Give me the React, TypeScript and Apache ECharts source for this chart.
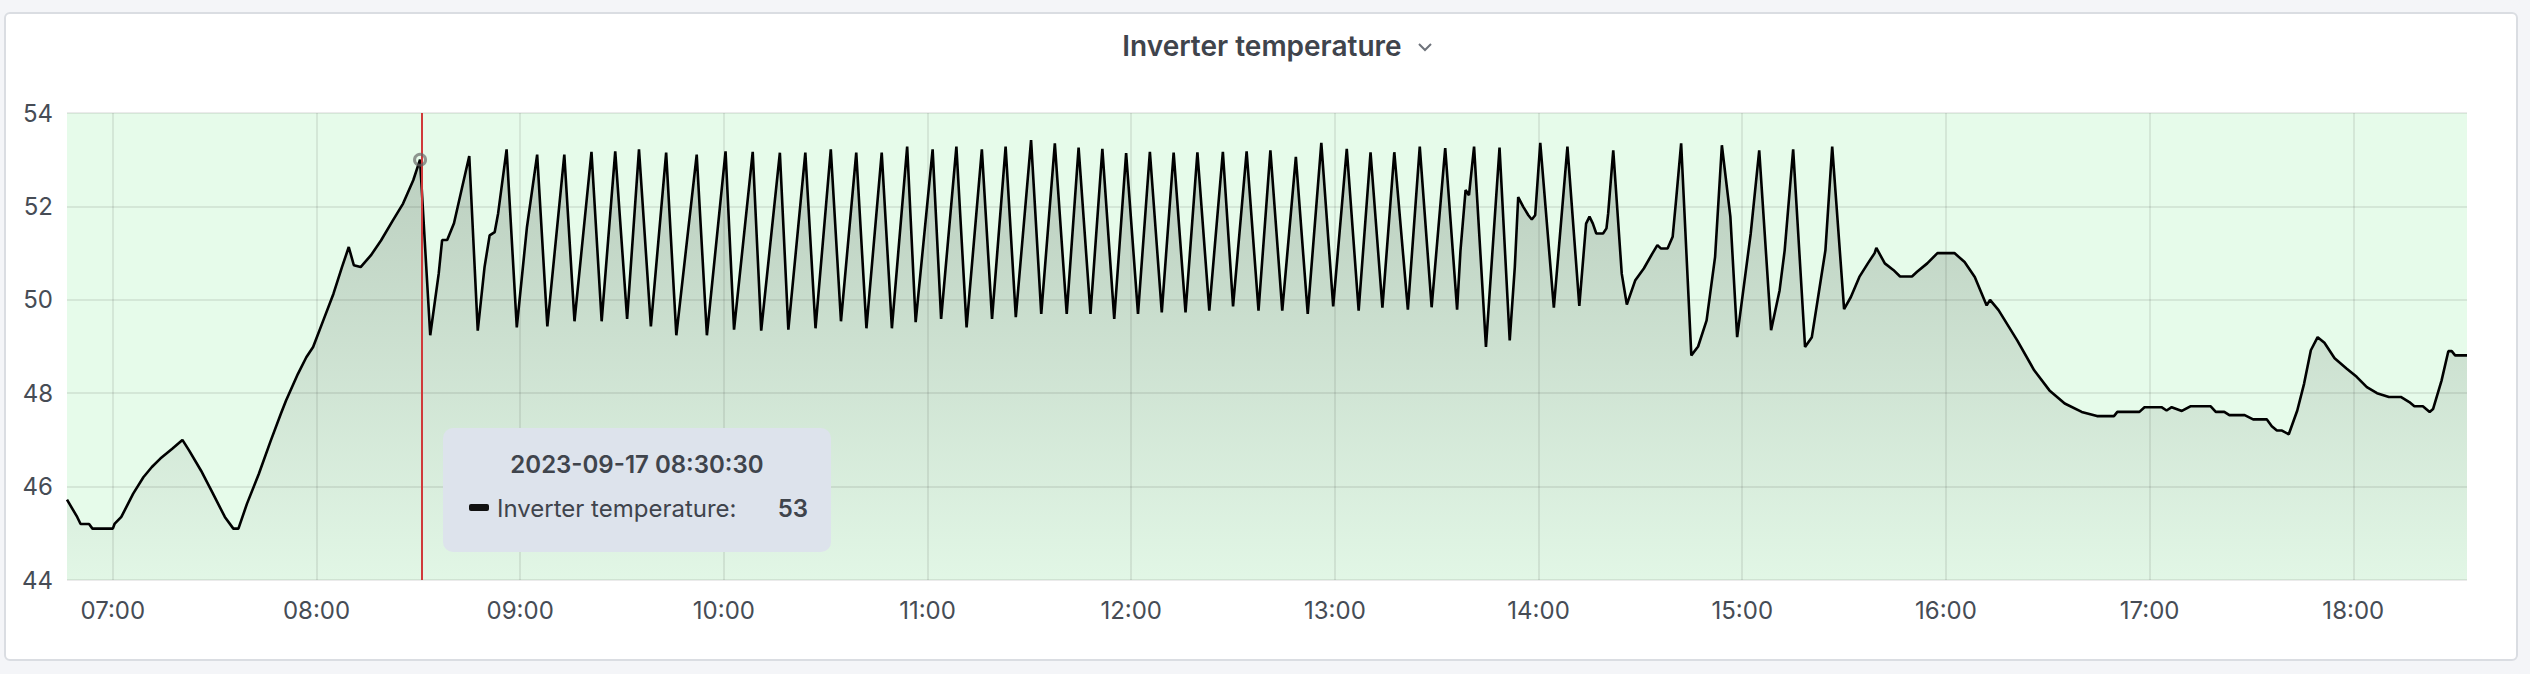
import React, { useEffect, useRef } from "react";
import * as echarts from "echarts";

// ---------- data ----------
const seriesName = "Inverter temperature";
const tooltipTitle = "2023-09-17 08:30:30";
const axisStart = "06:46:30";
const axisEnd = "18:33:30";
const hoverTime = "08:30:30";
const hoverValue = 53;
const cursorTime = "08:31:05";
const hourTicks = ["07:00", "08:00", "09:00", "10:00", "11:00", "12:00", "13:00", "14:00", "15:00", "16:00", "17:00", "18:00"];
const yMin = 44;
const yMax = 54;
const yStep = 2;

const times = [
  "06:46:30", "06:49:30", "06:50:30", "06:53:00", "06:54:00", "07:00:00", "07:00:30", "07:02:30",
  "07:06:00", "07:09:00", "07:11:30", "07:14:00", "07:17:30", "07:20:30", "07:22:30", "07:26:00",
  "07:29:30", "07:33:00", "07:35:30", "07:37:00", "07:39:30", "07:43:00", "07:46:30", "07:49:30",
  "07:51:00", "07:54:30", "07:57:00", "07:59:00", "08:02:00", "08:05:00", "08:07:30", "08:09:30",
  "08:11:00", "08:13:00", "08:16:00", "08:19:00", "08:22:30", "08:25:30", "08:28:30", "08:30:30",
  "08:33:30", "08:36:00", "08:37:00", "08:38:30", "08:40:30", "08:42:30", "08:45:00", "08:47:30",
  "08:49:30", "08:51:00", "08:52:30", "08:53:30", "08:56:00", "08:59:00", "09:02:00", "09:05:00",
  "09:08:00", "09:13:00", "09:16:00", "09:21:00", "09:24:00", "09:28:00", "09:31:30", "09:35:00",
  "09:38:30", "09:43:00", "09:46:00", "09:52:00", "09:55:00", "10:00:30", "10:03:00", "10:08:30",
  "10:11:00", "10:16:30", "10:19:00", "10:24:00", "10:27:00", "10:31:30", "10:34:30", "10:39:00",
  "10:42:00", "10:46:30", "10:49:30", "10:54:00", "10:56:30", "11:01:30", "11:04:00", "11:08:30",
  "11:11:30", "11:16:00", "11:19:00", "11:23:00", "11:26:00", "11:30:30", "11:33:30", "11:37:30",
  "11:41:00", "11:44:30", "11:48:00", "11:51:30", "11:55:00", "11:58:30", "12:02:00", "12:05:30",
  "12:09:00", "12:12:30", "12:16:00", "12:19:30", "12:23:00", "12:27:00", "12:30:00", "12:34:00",
  "12:37:30", "12:41:00", "12:44:30", "12:48:30", "12:52:00", "12:56:00", "12:59:30", "13:03:30",
  "13:07:00", "13:10:30", "13:14:00", "13:17:30", "13:21:30", "13:25:00", "13:28:30", "13:32:30",
  "13:36:00", "13:37:00", "13:38:30", "13:39:30", "13:41:00", "13:44:30", "13:48:30", "13:51:30",
  "13:53:00", "13:54:00", "13:55:30", "13:57:00", "13:58:00", "13:59:00", "14:00:30", "14:04:30",
  "14:08:30", "14:12:00", "14:14:00", "14:15:00", "14:16:00", "14:17:00", "14:19:00", "14:20:00",
  "14:20:30", "14:22:00", "14:24:30", "14:26:00", "14:28:30", "14:31:00", "14:33:30", "14:35:00",
  "14:36:00", "14:38:00", "14:39:30", "14:40:30", "14:42:00", "14:45:00", "14:47:00", "14:49:30",
  "14:52:00", "14:54:00", "14:56:30", "14:58:30", "15:02:30", "15:05:00", "15:08:30", "15:11:00",
  "15:12:30", "15:15:00", "15:18:30", "15:20:30", "15:22:30", "15:24:30", "15:26:30", "15:30:00",
  "15:32:00", "15:34:30", "15:37:00", "15:39:00", "15:39:30", "15:42:00", "15:44:30", "15:46:30",
  "15:50:00", "15:51:30", "15:54:30", "15:57:30", "16:02:30", "16:05:30", "16:08:30", "16:12:00",
  "16:13:00", "16:15:30", "16:21:00", "16:26:00", "16:30:30", "16:35:00", "16:40:00", "16:44:30",
  "16:49:30", "16:50:30", "16:57:00", "16:58:30", "17:03:30", "17:05:00", "17:06:30", "17:09:30",
  "17:12:00", "17:18:00", "17:19:30", "17:22:00", "17:23:30", "17:28:00", "17:30:30", "17:34:30",
  "17:36:00", "17:37:30", "17:39:00", "17:41:00", "17:43:30", "17:45:30", "17:47:30", "17:49:30",
  "17:51:30", "17:54:30", "17:58:00", "18:01:00", "18:04:00", "18:07:00", "18:10:30", "18:14:00",
  "18:16:30", "18:18:00", "18:20:30", "18:22:30", "18:23:30", "18:26:00", "18:28:00", "18:29:00",
  "18:30:00", "18:33:30",
];

const temps = [
  45.72, 45.35, 45.2, 45.2, 45.1, 45.1, 45.2, 45.35,
  45.85, 46.2, 46.42, 46.6, 46.81, 47.0, 46.77, 46.34,
  45.85, 45.35, 45.1, 45.1, 45.63, 46.27, 46.98, 47.56,
  47.84, 48.41, 48.77, 48.99, 49.56, 50.13, 50.7, 51.13,
  50.74, 50.7, 50.95, 51.27, 51.7, 52.06, 52.56, 53.0,
  49.24, 50.56, 51.28, 51.28, 51.64, 52.28, 53.08, 49.34,
  50.7, 51.38, 51.45, 51.85, 53.22, 49.41, 51.56, 53.11,
  49.43, 53.11, 49.54, 53.17, 49.54, 53.18, 49.59, 53.22,
  49.43, 53.15, 49.24, 53.11, 49.24, 53.18, 49.36, 53.17,
  49.34, 53.15, 49.36, 53.15, 49.39, 53.22, 49.54, 53.15,
  49.39, 53.15, 49.39, 53.28, 49.52, 53.22, 49.59, 53.28,
  49.41, 53.22, 49.59, 53.28, 49.63, 53.42, 49.7, 53.35,
  49.7, 53.26, 49.7, 53.23, 49.59, 53.14, 49.7, 53.17,
  49.73, 53.15, 49.73, 53.16, 49.77, 53.17, 49.86, 53.18,
  49.77, 53.2, 49.77, 53.06, 49.7, 53.36, 49.86, 53.23,
  49.77, 53.16, 49.83, 53.16, 49.79, 53.28, 49.84, 53.25,
  49.79, 51.06, 52.35, 52.24, 53.28, 48.99, 53.26, 49.13,
  50.7, 52.2, 51.99, 51.81, 51.72, 51.81, 53.36, 49.83,
  53.28, 49.87, 51.63, 51.78, 51.63, 51.42, 51.42, 51.53,
  51.85, 53.2, 50.56, 49.9, 50.42, 50.67, 50.99, 51.17,
  51.1, 51.1, 51.35, 52.13, 53.35, 48.81, 49.0, 49.56,
  50.92, 53.31, 51.78, 49.2, 51.42, 53.2, 49.35, 50.2,
  51.06, 53.22, 48.99, 49.2, 50.13, 51.06, 53.28, 49.8,
  50.06, 50.49, 50.78, 51.0, 51.11, 50.78, 50.64, 50.5,
  50.5, 50.6, 50.78, 51.0, 51.0, 50.81, 50.49, 49.88,
  50.0, 49.78, 49.13, 48.49, 48.06, 47.78, 47.6, 47.51,
  47.51, 47.6, 47.6, 47.7, 47.7, 47.63, 47.7, 47.62,
  47.72, 47.72, 47.6, 47.6, 47.53, 47.53, 47.44, 47.44,
  47.29, 47.2, 47.2, 47.12, 47.63, 48.2, 48.92, 49.2,
  49.08, 48.75, 48.53, 48.35, 48.13, 48.0, 47.92, 47.92,
  47.81, 47.72, 47.72, 47.6, 47.66, 48.27, 48.9, 48.9,
  48.81, 48.81,
];

// ---------- helpers ----------
function ts(hms: string): number {
  const parts = hms.split(":").map(Number);
  return Date.UTC(2023, 8, 17, parts[0], parts[1], parts[2] || 0);
}
function pad(n: number): string {
  return n < 10 ? "0" + n : String(n);
}
function fmtHour(v: number): string {
  const d = new Date(v);
  return pad(d.getUTCHours()) + ":" + pad(d.getUTCMinutes());
}

const FONT = "Inter";
const TEXT = "#464c55";
const GRID = "rgba(0,0,0,0.08)";

function textEl(text: string, x: number, y: number, font: string, align: string, z: number) {
  return {
    type: "text",
    z,
    style: {
      text,
      x,
      y,
      font,
      fill: "#3f444c",
      align,
      verticalAlign: "middle",
      textAlign: align,
      textVerticalAlign: "middle",
    },
  };
}

export default function App() {
  const ref = useRef<HTMLDivElement>(null);

  useEffect(() => {
    if (!ref.current) return;
    const chart = echarts.init(ref.current, null, { renderer: "svg", width: 2530, height: 674 });
    const hourValues = hourTicks.map((h) => ts(h));
    const data = times.map((t, i) => [ts(t), temps[i]]);

    chart.setOption({
      animation: false,
      textStyle: { fontFamily: FONT },
      grid: {
        left: 67,
        right: 63,
        top: 113,
        bottom: 94,
        show: true,
        backgroundColor: "#e6fbea",
        borderWidth: 0,
        containLabel: false,
      },
      xAxis: {
        type: "value",
        min: ts(axisStart),
        max: ts(axisEnd),
        axisLine: { show: false },
        axisTick: { show: false, customValues: hourValues },
        axisLabel: {
          customValues: hourValues,
          formatter: (v: number) => fmtHour(v),
          fontSize: 24,
          color: TEXT,
          fontFamily: FONT,
          margin: 18,
        },
        splitLine: { show: true, lineStyle: { color: GRID, width: 2 } },
      },
      yAxis: {
        type: "value",
        min: yMin,
        max: yMax,
        interval: yStep,
        axisLine: { show: false },
        axisTick: { show: false },
        axisLabel: { fontSize: 24, color: TEXT, fontFamily: FONT, margin: 14 },
        splitLine: { show: true, lineStyle: { color: GRID, width: 2 } },
      },
      series: [
        {
          type: "line",
          name: seriesName,
          data,
          showSymbol: false,
          symbol: "none",
          silent: true,
          lineStyle: { color: "#000000", width: 2.6 },
          areaStyle: {
            origin: "start",
            color: new echarts.graphic.LinearGradient(0, 0, 0, 1, [
              { offset: 0, color: "rgba(20,35,25,0.3)" },
              { offset: 1, color: "rgba(20,35,25,0.03)" },
            ]),
          },
          markLine: {
            silent: true,
            symbol: ["none", "none"],
            label: { show: false },
            lineStyle: { color: "#d0393a", width: 2, type: "solid" },
            data: [{ xAxis: ts(cursorTime) }],
          },
          z: 2,
        },
        {
          type: "scatter",
          data: [[ts(hoverTime), hoverValue]],
          symbol: "circle",
          symbolSize: 11,
          silent: true,
          itemStyle: { color: "rgba(0,0,0,0)", borderColor: "rgba(100,100,100,0.85)", borderWidth: 3 },
          z: 5,
        },
      ],
    });

    const p = chart.convertToPixel({ gridIndex: 0 }, [ts(hoverTime), hoverValue]) as number[];
    const L = Math.round((p && p[0] ? p[0] : 421) + 23);
    const T = 428;
    const W = 388;
    const H = 124;

    chart.setOption({
      graphic: [
        textEl(seriesName, 1262, 46, `600 28px ${FONT}`, "center", 10),
        {
          type: "polyline",
          z: 10,
          shape: { points: [[1419, 44], [1425, 50], [1431, 44]] },
          style: { stroke: "#6e737b", lineWidth: 2, fill: null },
        },
        {
          type: "rect",
          z: 20,
          shape: { x: L, y: T, width: W, height: H, r: 10 },
          style: { fill: "#dde3ec" },
        },
        textEl(tooltipTitle, L + W / 2, T + 36, `600 24px ${FONT}`, "center", 21),
        {
          type: "rect",
          z: 21,
          shape: { x: L + 26, y: T + 76, width: 20, height: 7, r: 2 },
          style: { fill: "#111111" },
        },
        textEl(seriesName + ":", L + 54, T + 80, `400 24px ${FONT}`, "left", 21),
        textEl(String(hoverValue), L + 365, T + 80, `600 24px ${FONT}`, "right", 21),
      ],
    });

    return () => chart.dispose();
  }, []);

  return (
    <div
      style={{
        position: "fixed",
        left: 0,
        top: 0,
        width: 2530,
        height: 674,
        background: "#f4f5f8",
        overflow: "hidden",
      }}
    >
      <div
        style={{
          position: "absolute",
          left: 4,
          top: 12,
          width: 2514,
          height: 649,
          boxSizing: "border-box",
          background: "#ffffff",
          border: "2px solid #dadde2",
          borderRadius: 6,
        }}
      />
      <div ref={ref} style={{ position: "absolute", left: 0, top: 0, width: 2530, height: 674 }} />
    </div>
  );
}
